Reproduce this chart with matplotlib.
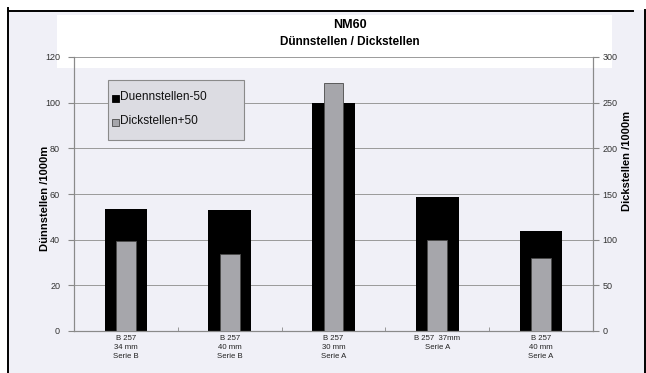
import matplotlib
matplotlib.use("Agg")
import matplotlib.pyplot as plt
from matplotlib.patches import Rectangle
from matplotlib.lines import Line2D

plt.rcParams['font.family'] = ['Liberation Sans', 'DejaVu Sans']

# Data
categories = ["B 257\n34 mm\nSerie B", "B 257\n40 mm\nSerie B", "B 257\n30 mm\nSerie A",
              "B 257  37mm\nSerie A", "B 257\n40 mm\nSerie A"]
duennstellen = [53.5, 53, 100, 58.5, 44]      # left axis, per 1000 m
dickstellen = [99, 84, 271, 100, 80]           # right axis, per 1000 m
left_ticks = [0, 20, 40, 60, 80, 100, 120]
right_ticks = [0, 50, 100, 150, 200, 250, 300]
series_names = ["Duennstellen-50", "Dickstellen+50"]

W, H = 646, 373
fig = plt.figure(figsize=(W / 100, H / 100), dpi=100)
fig.patch.set_facecolor("white")

def fx(px):
    return px / W

def fy(py):
    return 1 - py / H

# page background and frame
fig.patches.append(Rectangle((fx(8), 0), fx(644) - fx(8), fy(10), transform=fig.transFigure,
                             facecolor="#f0f0f7", edgecolor="none", zorder=-3))
fig.lines.append(Line2D([fx(7.5), fx(7.5)], [0, fy(8)], transform=fig.transFigure,
                        color="black", lw=1.4, zorder=-1))
fig.lines.append(Line2D([fx(7.5), fx(633)], [fy(10.5), fy(10.5)], transform=fig.transFigure,
                        color="black", lw=1.4, zorder=-1))
fig.lines.append(Line2D([fx(644.5), fx(644.5)], [0, fy(10)], transform=fig.transFigure,
                        color="black", lw=1.4, zorder=-1))
# title panel
fig.patches.append(Rectangle((fx(57), fy(68)), fx(612) - fx(57), fy(15) - fy(68),
                             transform=fig.transFigure, facecolor="white",
                             edgecolor="none", zorder=-2))

left, right, top, bottom = 74, 593, 57, 331
ax = fig.add_axes([fx(left), fy(bottom), fx(right) - fx(left), fy(top) - fy(bottom)])
ax.set_facecolor("none")
ax2 = ax.twinx()
ax2.set_facecolor("none")

black_col = "black"
gray_col = "#a6a6ab"
gray_edge = "#4a4a4a"

x = list(range(len(categories)))
ax.bar(x, duennstellen, width=0.41, color=black_col, zorder=2)
ax2.bar(x, dickstellen, width=0.19, color=gray_col, edgecolor=gray_edge,
        linewidth=0.6, zorder=3)

ax.set_xlim(-0.5, len(categories) - 0.5)
ax.set_ylim(0, 120)
ax2.set_ylim(0, 300)
ax.set_yticks(left_ticks)
ax2.set_yticks(right_ticks)
ax.set_yticklabels([str(v) for v in left_ticks], fontsize=6.5, color="#333333")
ax2.set_yticklabels([str(v) for v in right_ticks], fontsize=6.5, color="#333333")

ax.yaxis.grid(True, color="#9a9a9a", lw=0.7)
ax.set_axisbelow(True)

ax.set_xticks(x)
ax.set_xticklabels(categories, fontsize=5.6, color="#222222", linespacing=1.35,
                   va="top")
ax.tick_params(axis="x", length=0, pad=3)
ax.set_xticks([i + 0.5 for i in x[:-1]], minor=True)
ax.tick_params(axis="x", which="minor", length=3, color="#888888", direction="in")
ax.tick_params(axis="y", length=4, color="#888888", pad=6)
ax2.tick_params(axis="y", length=4, color="#888888", pad=3)

for a in (ax, ax2):
    a.spines["top"].set_visible(False)
    for s in ("left", "right", "bottom"):
        a.spines[s].set_color("#8a8a8a")
        a.spines[s].set_linewidth(0.8)

# titles
fig.text(fx(350), fy(25), "NM60", ha="center", va="center", fontsize=9, fontweight="bold")
fig.text(fx(350), fy(42), "Dünnstellen / Dickstellen", ha="center", va="center",
         fontsize=8.5, fontweight="bold")

fig.text(fx(45), fy(198), "Dünnstellen /1000m", rotation=90, ha="center", va="center",
         fontsize=8, fontweight="bold")
fig.text(fx(627), fy(161), "Dickstellen /1000m", rotation=90, ha="center", va="center",
         fontsize=8, fontweight="bold")

# legend box, drawn in pixel positions on the figure
leg_l, leg_t, leg_r, leg_b = 108, 80, 244, 140
fig.patches.append(Rectangle((fx(leg_l), fy(leg_b)), fx(leg_r) - fx(leg_l),
                             fy(leg_t) - fy(leg_b), transform=fig.transFigure,
                             facecolor="#dcdce2", edgecolor="#8a8a8a", lw=0.8, zorder=5))
for name, fc, ec, yc in [(series_names[0], black_col, black_col, 98),
                         (series_names[1], gray_col, gray_edge, 122)]:
    fig.patches.append(Rectangle((fx(112), fy(yc + 3.5)), fx(7), fy(0) - fy(7),
                                 transform=fig.transFigure, facecolor=fc, edgecolor=ec,
                                 lw=0.6, zorder=6))
    fig.text(fx(120.5), fy(yc - 1), name, ha="left", va="center", fontsize=8.6,
             color="#111111", zorder=6)

fig.savefig("out.png", dpi=100, facecolor=fig.get_facecolor())
